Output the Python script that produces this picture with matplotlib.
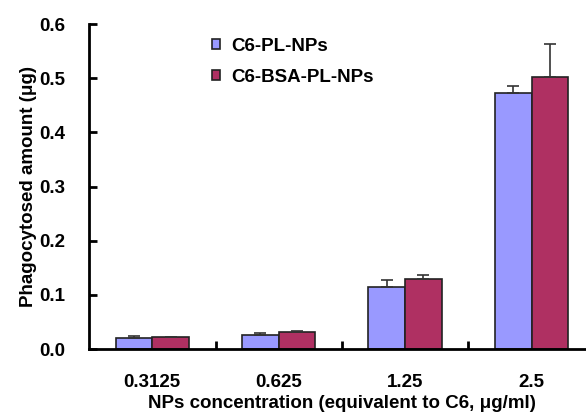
import numpy as np
import matplotlib.pyplot as plt

# datos
categorias = ['0.3125', '0.625', '1.25', '2.5']
pl_nps = [0.020, 0.026, 0.115, 0.472]
pl_nps_err = [0.004, 0.003, 0.012, 0.014]
bsa_pl_nps = [0.023, 0.031, 0.129, 0.503]
bsa_pl_nps_err = [0.0, 0.002, 0.008, 0.061]

plt.rcParams['font.family'] = ['Liberation Sans', 'DejaVu Sans']
plt.rcParams['font.weight'] = 'bold'
fs = 13.5

fig = plt.figure(figsize=(5.86, 4.15), dpi=100)
ax = fig.add_axes([0.152, 0.159, 0.863, 0.783])

x = np.arange(len(categorias))
w = 0.29
ax.bar(x - w / 2, pl_nps, w, color='#9999FF', edgecolor='#222222', linewidth=1.2,
       yerr=[np.zeros(4), pl_nps_err], error_kw=dict(ecolor='#333333', elinewidth=1.2, capsize=4, capthick=1.2),
       label='C6-PL-NPs')
ax.bar(x + w / 2, bsa_pl_nps, w, color='#AF3062', edgecolor='#222222', linewidth=1.2,
       yerr=[np.zeros(4), bsa_pl_nps_err], error_kw=dict(ecolor='#333333', elinewidth=1.2, capsize=4, capthick=1.2),
       label='C6-BSA-PL-NPs')

ax.set_xlim(-0.5, 3.5)
ax.set_ylim(0, 0.6)
ax.set_yticks(np.arange(0, 0.61, 0.1))
ax.set_yticklabels([f'{v:.1f}' for v in np.arange(0, 0.61, 0.1)], fontsize=fs, fontweight='bold')
ax.set_xticks(x)
ax.set_xticklabels(categorias, fontsize=fs, fontweight='bold')
ax.set_xticks([0.5, 1.5, 2.5], minor=True)
ax.tick_params(axis='x', which='major', length=0, pad=18)
ax.tick_params(axis='x', which='minor', direction='in', length=6, width=2)
ax.tick_params(axis='y', direction='in', length=6, width=2, pad=17)

for s in ['top', 'right']:
    ax.spines[s].set_visible(False)
for s in ['left', 'bottom']:
    ax.spines[s].set_linewidth(2)

ax.set_ylabel('Phagocytosed amount (μg)', fontsize=fs, fontweight='bold', labelpad=2)
ax.set_xlabel('NPs concentration (equivalent to C6, μg/ml)', fontsize=fs, fontweight='bold', labelpad=3)

ax.legend(loc='upper left', bbox_to_anchor=(0.21, 1.01), frameon=False,
          handlelength=0.4, handleheight=0.45, handletextpad=0.6, labelspacing=0.75,
          prop={'weight': 'bold', 'size': fs})

plt.savefig('out.png', dpi=100)
